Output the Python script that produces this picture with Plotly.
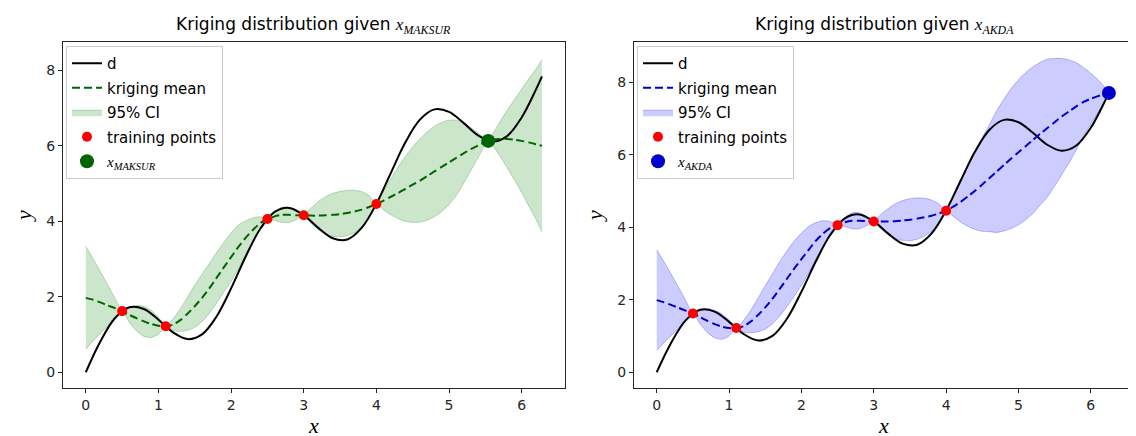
import plotly.graph_objects as go

# true function d, sampled
d_x = [0.0, 0.2, 0.4, 0.6, 0.8, 1.0, 1.2, 1.4, 1.6, 1.8, 2.0, 2.2, 2.4, 2.6, 2.8, 3.0,
       3.2, 3.4, 3.6, 3.8, 4.0, 4.2, 4.4, 4.6, 4.8, 5.0, 5.2, 5.4, 5.6, 5.8, 6.0, 6.2, 6.28]
d_y = [0.0, 0.815, 1.432, 1.724, 1.675, 1.391, 1.057, 0.878, 1.004, 1.477, 2.221, 3.062,
       3.794, 4.249, 4.355, 4.162, 3.825, 3.55, 3.519, 3.832, 4.463, 5.284, 6.092, 6.694,
       6.965, 6.9, 6.608, 6.278, 6.113, 6.257, 6.749, 7.502, 7.84]

train_x = [0.5, 1.1, 2.5, 3.0, 4.0]
train_y = [1.62, 1.22, 4.06, 4.16, 4.46]

# left panel: kriging given x_MAKSUR
grid_l = [0.0, 0.1, 0.2, 0.3, 0.4, 0.5, 0.6, 0.7, 0.8, 0.9, 1.0, 1.1, 1.2, 1.3, 1.4, 1.5,
          1.6, 1.7, 1.8, 1.9, 2.0, 2.1, 2.2, 2.3, 2.4, 2.5, 2.6, 2.7, 2.8, 2.9, 3.0, 3.1,
          3.2, 3.3, 3.4, 3.5, 3.6, 3.7, 3.8, 3.9, 4.0, 4.1, 4.2, 4.3, 4.4, 4.5, 4.6, 4.7,
          4.8, 4.9, 5.0, 5.1, 5.2, 5.3, 5.4, 5.54, 5.6, 5.7, 5.8, 5.9, 6.0, 6.1, 6.2, 6.28]
mean_l = [1.97, 1.92, 1.85, 1.77, 1.70, 1.62, 1.52, 1.43, 1.35, 1.28, 1.23, 1.22, 1.26, 1.38,
          1.55, 1.75, 1.97, 2.22, 2.50, 2.78, 3.05, 3.32, 3.56, 3.77, 3.95, 4.06, 4.13, 4.17,
          4.17, 4.16, 4.16, 4.15, 4.15, 4.16, 4.17, 4.19, 4.22, 4.26, 4.31, 4.38, 4.46, 4.55,
          4.65, 4.75, 4.86, 4.97, 5.08, 5.20, 5.32, 5.44, 5.56, 5.68, 5.80, 5.91, 6.01, 6.13,
          6.16, 6.18, 6.18, 6.16, 6.13, 6.09, 6.04, 6.00]
ci_half_l = [1.36, 1.09, 0.82, 0.55, 0.27, 0.0, 0.2, 0.34, 0.40, 0.36, 0.22, 0.0, 0.15, 0.30,
             0.44, 0.56, 0.63, 0.66, 0.67, 0.66, 0.64, 0.58, 0.45, 0.32, 0.17, 0.0, 0.11, 0.2,
             0.2, 0.12, 0.0, 0.2, 0.37, 0.49, 0.57, 0.6, 0.6, 0.56, 0.47, 0.3, 0.0, 0.25, 0.48,
             0.68, 0.86, 1.0, 1.1, 1.17, 1.2, 1.18, 1.12, 1.0, 0.8, 0.57, 0.33, 0.0, 0.15, 0.45,
             0.76, 1.06, 1.37, 1.69, 2.0, 2.28]
new_l = (5.54, 6.13)

# right panel: kriging given x_AKDA
grid_r = [0.0, 0.1, 0.2, 0.3, 0.4, 0.5, 0.6, 0.7, 0.8, 0.9, 1.0, 1.1, 1.2, 1.3, 1.4, 1.5,
          1.6, 1.7, 1.8, 1.9, 2.0, 2.1, 2.2, 2.3, 2.4, 2.5, 2.6, 2.7, 2.8, 2.9, 3.0, 3.1,
          3.2, 3.3, 3.4, 3.5, 3.6, 3.7, 3.8, 3.9, 4.0, 4.1, 4.2, 4.3, 4.4, 4.5, 4.6, 4.7,
          4.8, 4.9, 5.0, 5.1, 5.2, 5.3, 5.4, 5.5, 5.6, 5.7, 5.8, 5.9, 6.0, 6.1, 6.2, 6.25, 6.28]
mean_r = [1.99, 1.93, 1.86, 1.78, 1.70, 1.62, 1.52, 1.42, 1.33, 1.26, 1.22, 1.22, 1.27, 1.40,
          1.58, 1.79, 2.03, 2.30, 2.58, 2.86, 3.12, 3.38, 3.63, 3.83, 3.98, 4.06, 4.14, 4.18,
          4.18, 4.17, 4.16, 4.16, 4.16, 4.17, 4.19, 4.21, 4.24, 4.28, 4.32, 4.38, 4.46, 4.57,
          4.70, 4.85, 5.01, 5.18, 5.36, 5.54, 5.72, 5.90, 6.07, 6.24, 6.41, 6.58, 6.74, 6.90,
          7.06, 7.20, 7.34, 7.46, 7.55, 7.62, 7.68, 7.71, 7.73]
ci_half_r = [1.39, 1.12, 0.85, 0.57, 0.29, 0.0, 0.19, 0.32, 0.38, 0.35, 0.22, 0.0, 0.16, 0.31,
             0.46, 0.60, 0.69, 0.75, 0.77, 0.76, 0.72, 0.64, 0.50, 0.35, 0.18, 0.0, 0.12, 0.22,
             0.22, 0.13, 0.0, 0.2, 0.36, 0.48, 0.55, 0.58, 0.57, 0.52, 0.43, 0.27, 0.0, 0.27,
             0.55, 0.82, 1.07, 1.29, 1.48, 1.68, 1.82, 1.93, 2.0, 2.03, 2.02, 1.97, 1.9, 1.76,
             1.6, 1.42, 1.2, 0.95, 0.7, 0.45, 0.17, 0.0, 0.02]
new_r = (6.25, 7.71)

W, H = 1136, 436
SERIF = "Liberation Serif"


def mathx(sub):
    return (f"<span style=\"font-family:'{SERIF}'\"><i>x</i>"
            f"<sub><i>{sub}</i></sub></span>")


fig = go.Figure()


def add_panel(ax, leg, grid, mean, half, new_pt, color, fill, edge, sub):
    xa, ya = ("x", "y") if ax == 1 else ("x2", "y2")
    lower = [m - h for m, h in zip(mean, half)]
    upper = [m + h for m, h in zip(mean, half)]
    fig.add_trace(go.Scatter(
        x=grid, y=lower, mode="lines", line=dict(color=edge, width=1, shape="spline", smoothing=0.6),
        showlegend=False, hoverinfo="skip", xaxis=xa, yaxis=ya, legend=leg))
    fig.add_trace(go.Scatter(
        x=grid, y=upper, mode="lines", line=dict(color=edge, width=1, shape="spline", smoothing=0.6),
        fill="tonexty", fillcolor=fill, name="95% CI", legendgroup=f"ci{ax}", legendrank=3,
        xaxis=xa, yaxis=ya, legend=leg))
    fig.add_trace(go.Scatter(
        x=d_x, y=d_y, mode="lines", line=dict(color="black", width=2, shape="spline"),
        name="d", legendgroup=f"d{ax}", legendrank=1, xaxis=xa, yaxis=ya, legend=leg))
    fig.add_trace(go.Scatter(
        x=grid, y=mean, mode="lines",
        line=dict(color=color, width=2, dash="8px,4px", shape="spline", smoothing=0.6),
        name="kriging mean", legendgroup=f"m{ax}", legendrank=2, xaxis=xa, yaxis=ya, legend=leg))
    fig.add_trace(go.Scatter(
        x=train_x, y=train_y, mode="markers", marker=dict(color="#ff0000", size=10),
        name="training points", legendgroup=f"t{ax}", legendrank=4,
        xaxis=xa, yaxis=ya, legend=leg))
    fig.add_trace(go.Scatter(
        x=[new_pt[0]], y=[new_pt[1]], mode="markers", marker=dict(color=color, size=14),
        name=mathx(sub), legendgroup=f"n{ax}", legendrank=5,
        xaxis=xa, yaxis=ya, legend=leg))


add_panel(1, "legend", grid_l, mean_l, ci_half_l, new_l, "#006400",
          "rgba(0,128,0,0.2)", "rgba(0,128,0,0.25)", "MAKSUR")
add_panel(2, "legend2", grid_r, mean_r, ci_half_r, new_r, "#0000cd",
          "rgba(0,0,255,0.2)", "rgba(0,0,255,0.25)", "AKDA")

L1, R1 = 55, 557
L2, R2 = 626, 1126
TOP, BOT = 34, 380

axis_common = dict(showline=True, mirror=True, linecolor="#262626", linewidth=1,
                   ticks="outside", ticklen=4, tickcolor="#262626", showgrid=False,
                   zeroline=False, tickfont=dict(size=14, color="#262626"))
label_font = dict(family=SERIF, size=22, color="black")

ydom = [(H - BOT) / H, (H - TOP) / H]
fig.update_layout(
    width=W, height=H, autosize=False,
    margin=dict(l=0, r=0, t=0, b=0),
    paper_bgcolor="white", plot_bgcolor="white",
    font=dict(family="DejaVu Sans", color="black"),
    xaxis=dict(domain=[L1 / W, R1 / W], range=[-0.314, 6.597], tickvals=[0, 1, 2, 3, 4, 5, 6],
               anchor="y", title=dict(text="<i>x</i>", font=label_font, standoff=2), **axis_common),
    yaxis=dict(domain=ydom, range=[-0.417, 8.75], tickvals=[0, 2, 4, 6, 8], anchor="x",
               title=dict(text="<i>y</i>", font=label_font, standoff=8), **axis_common),
    xaxis2=dict(domain=[L2 / W, R2 / W], range=[-0.314, 6.597], tickvals=[0, 1, 2, 3, 4, 5, 6],
                anchor="y2", title=dict(text="<i>x</i>", font=label_font, standoff=2), **axis_common),
    yaxis2=dict(domain=ydom, range=[-0.434, 9.114], tickvals=[0, 2, 4, 6, 8], anchor="x2",
                title=dict(text="<i>y</i>", font=label_font, standoff=8), **axis_common),
)

legend_common = dict(yanchor="top", xanchor="left", y=(H - 38) / H,
                     bgcolor="rgba(255,255,255,0.8)", bordercolor="#cccccc", borderwidth=1,
                     font=dict(size=15, family="DejaVu Sans"), tracegroupgap=2,
                     traceorder="grouped")
fig.update_layout(
    legend=dict(x=(L1 + 3) / W, **legend_common),
    legend2=dict(x=(L2 + 3) / W, **legend_common),
)

for cx, sub in [((L1 + R1) / 2, "MAKSUR"), ((L2 + R2) / 2, "AKDA")]:
    fig.add_annotation(
        x=cx / W, y=(H - 18) / H, xref="paper", yref="paper", showarrow=False,
        text=f"Kriging distribution given {mathx(sub)}", font=dict(size=17, color="black"),
        xanchor="center", yanchor="middle")

fig.write_html("out.html")
